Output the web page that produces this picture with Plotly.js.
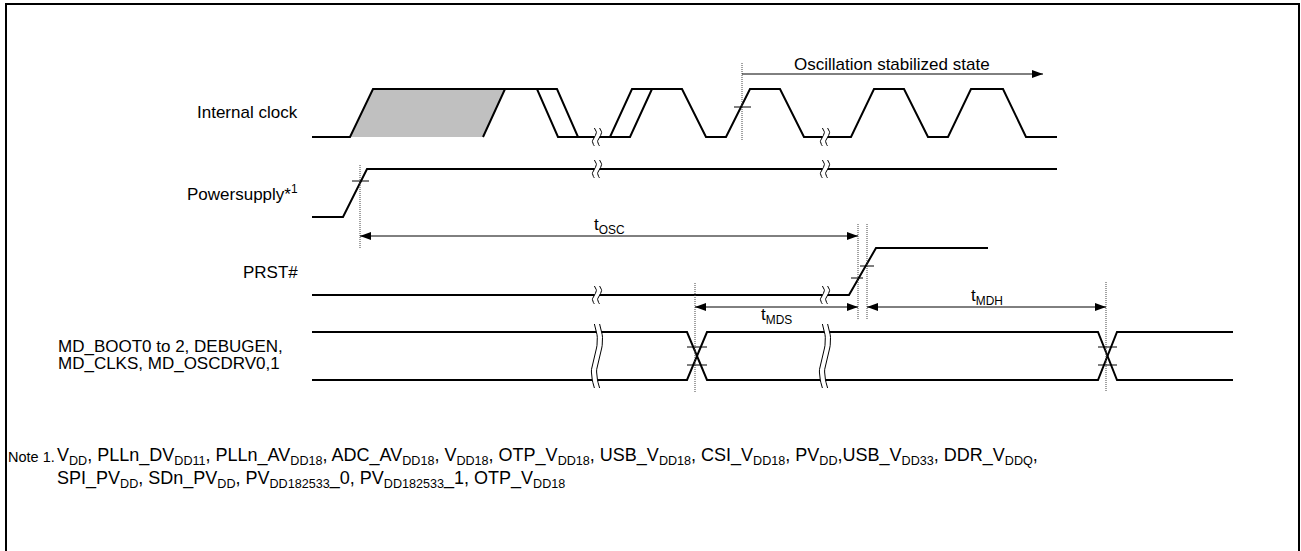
<!DOCTYPE html>
<html><head><meta charset="utf-8">
<script src="https://cdn.plot.ly/plotly-3.0.1.min.js"></script>
<style>html,body{margin:0;padding:0;background:#fff}#chart{width:1301px;height:551px}</style>
</head><body><div id="chart"></div>
<script>
// ================= DATA =================
// Signal labels
const signalLabels = ["Internal clock", "Powersupply*<sup>1</sup>", "PRST#"];
const busLabels = ["MD_BOOT0 to 2, DEBUGEN,", "MD_CLKS, MD_OSCDRV0,1"];

// Internal clock: edge times (timeline units) and logic levels (0 = low, 1 = high)
const clockT     = [312, 350, 373, 537, 558, 610, 632, 682, 706, 726, 750, 780, 804, 851, 874, 904, 928, 948, 971, 1003, 1026, 1057];
const clockLevel = [0,   0,   1,   1,   0,   0,   1,   1,   0,   0,   1,   1,   0,   0,   1,   1,   0,   0,   1,   1,    0,    0];
// Late-edge (jitter) trace of the start-up clock
const clockLateT     = [483, 505, 557, 578, 630, 652];
const clockLateLevel = [0,   1,   1,   0,   0,   1];
// Shaded uncertain region at oscillation start
const shadeT     = [350, 373, 505, 483];
const shadeLevel = [0,   1,   1,   0];

// Power supply
const powerT     = [312, 343, 367, 1057];
const powerLevel = [0,   0,   1,   1];

// PRST#
const prstT     = [312, 849, 876, 988];
const prstLevel = [0,   0,   1,   1];

// Mode-pin bus (two crossing lines)
const busT      = [312, 687, 707, 1098, 1117, 1233];
const busLevelA = [1,   1,   0,   0,    1,    1];
const busLevelB = [0,   0,   1,   1,    0,    0];

// Time-axis breaks
const breakT = [597, 825];

// Reference instants (threshold crossings)
const tClockStable = 742;   // oscillation stabilized
const tPowerOn     = 360;   // power supply valid
const tPrstLow     = 858;   // PRST# crosses VIL
const tPrstHigh    = 867;   // PRST# crosses VIH
const tModeValid   = 695;   // mode pins settled
const tModeHoldEnd = 1106;  // mode-pin hold end

// Timing parameter names
const timingNames = ["t<sub>OSC</sub>", "t<sub>MDS</sub>", "t<sub>MDH</sub>"];
const stabilizedText = "Oscillation stabilized state";
const stabilizedEnd = 1043;

const noteLabel = "Note 1.";
const noteLines = [
  "V<sub>DD</sub>, PLLn_DV<sub>DD11</sub>, PLLn_AV<sub>DD18</sub>, ADC_AV<sub>DD18</sub>, V<sub>DD18</sub>, OTP_V<sub>DD18</sub>, USB_V<sub>DD18</sub>, CSI_V<sub>DD18</sub>, PV<sub>DD</sub>,USB_V<sub>DD33</sub>, DDR_V<sub>DDQ</sub>,",
  "SPI_PV<sub>DD</sub>, SDn_PV<sub>DD</sub>, PV<sub>DD182533</sub>_0, PV<sub>DD182533</sub>_1, OTP_V<sub>DD18</sub>"
];

// ================= LAYOUT / STYLE =================
const rows = {
  clock: {lo: 137, hi: 89,  label: 112},
  power: {lo: 217, hi: 169, label: 193},
  prst:  {lo: 295, hi: 248, label: 272},
  bus:   {lo: 380, hi: 332, label: 346}
};
const FONT = "Arial, 'Liberation Sans', sans-serif";
const WAVE_W = 2;
const traces = [];
const lv = (row, levels) => levels.map(v => v ? row.hi : row.lo);

function line(x, y, w, dash, color) {
  traces.push({type: 'scatter', mode: 'lines', x: x, y: y, hoverinfo: 'skip',
    line: {color: color || '#000', width: w, dash: dash || 'solid'}});
}
function poly(x, y, fill) {
  traces.push({type: 'scatter', mode: 'lines', x: x, y: y, fill: 'toself', fillcolor: fill,
    line: {width: 0, color: fill}, hoverinfo: 'skip'});
}
function vdot(x, y0, y1) { line([x, x], [y0, y1], 1, '1px,1px', '#444'); }
function tick(x0, x1, y) { line([x0, x1], [y, y], 1, 'solid', '#000'); }
function head(x, y, dir) {
  const L = 11, H = 4;
  poly([x, x - dir * L, x - dir * L, x], [y, y - H, y + H, y], '#000');
}
function arrow(x0, x1, y, left, right) {
  line([x0, x1], [y, y], 1, 'solid', '#000');
  if (left) head(x0, y, -1);
  if (right) head(x1, y, 1);
}
function brk(cx, cy, h, w) {
  const N = 24, gap = 2.6;
  const xa = [], ya = [], xb = [], yb = [];
  for (let i = 0; i <= N; i++) {
    const t = -1 + 2 * i / N;
    const dx = -w * Math.sin(Math.PI * t);
    xa.push(cx - gap + dx); ya.push(cy + h * t);
    xb.push(cx + gap + dx); yb.push(cy + h * t);
  }
  poly(xa.concat(xb.slice().reverse()), ya.concat(yb.slice().reverse()), '#fff');
  line(xa, ya, 1, 'solid', '#000');
  line(xb, yb, 1, 'solid', '#000');
}

// ---- Internal clock ----
poly(shadeT, lv(rows.clock, shadeLevel), '#c0c0c0');
line(clockT, lv(rows.clock, clockLevel), WAVE_W);
line(clockLateT, lv(rows.clock, clockLateLevel), WAVE_W);
breakT.forEach(b => brk(b, rows.clock.lo, 9, 2));
vdot(tClockStable, 63, 141);
tick(tClockStable - 8, tClockStable + 9, 107);
arrow(tClockStable, stabilizedEnd, 74, false, true);

// ---- Power supply ----
line(powerT, lv(rows.power, powerLevel), WAVE_W);
breakT.forEach(b => brk(b, rows.power.hi, 9, 2));
vdot(tPowerOn, 165, 248);
tick(tPowerOn - 8, tPowerOn + 9, 181);

// ---- tOSC ----
arrow(tPowerOn, tPrstLow, 236, true, true);

// ---- PRST# ----
line(prstT, lv(rows.prst, prstLevel), WAVE_W);
breakT.forEach(b => brk(b, rows.prst.lo, 9, 2));
vdot(tPrstLow, 224, 320);
vdot(tPrstHigh, 224, 320);
tick(tPrstLow - 7, tPrstLow + 5, 278);
tick(tPrstHigh - 7, tPrstHigh + 7, 266);

// ---- Bus ----
line(busT, lv(rows.bus, busLevelA), WAVE_W);
line(busT, lv(rows.bus, busLevelB), WAVE_W);
brk(breakT[0], (rows.bus.lo + rows.bus.hi) / 2, 32, 3);
brk(breakT[1], (rows.bus.lo + rows.bus.hi) / 2, 32, 3);
vdot(tModeValid, 283, 392);
vdot(tModeHoldEnd, 282, 392);
[[busT[1], busT[2]], [busT[3], busT[4]]].forEach(p => {
  tick(p[0], p[1], 347); tick(p[0], p[1], 365);
});

// ---- tMDS / tMDH ----
arrow(tModeValid, tPrstLow, 307, true, true);
arrow(tPrstHigh, tModeHoldEnd, 307, true, true);

// ---- Annotations ----
const ann = [];
const txt = (x, y, text, size, xanchor) => ann.push({x: x, y: y, xref: 'x', yref: 'y', text: text,
  showarrow: false, xanchor: xanchor || 'center', yanchor: 'middle', font: {family: FONT, size: size, color: '#000'}});
txt(300, rows.clock.label, signalLabels[0], 17, 'right');
txt(300, rows.power.label, signalLabels[1], 17, 'right');
txt(300, rows.prst.label, signalLabels[2], 17, 'right');
txt(56, rows.bus.label, busLabels[0], 17, 'left');
txt(56, rows.bus.label + 17, busLabels[1], 17, 'left');
txt(892, 64, stabilizedText, 17, 'center');
txt(609, 226, timingNames[0], 17, 'center');
txt(776, 316, timingNames[1], 17, 'center');
txt(987, 297, timingNames[2], 17, 'center');
txt(6, 457, noteLabel, 14.5, 'left');
txt(55, 456, noteLines[0], 18, 'left');
txt(55, 479, noteLines[1], 18, 'left');

const layout = {
  width: 1301, height: 551, margin: {l: 0, r: 0, t: 0, b: 0},
  paper_bgcolor: '#fff', plot_bgcolor: '#fff', showlegend: false, hovermode: false,
  xaxis: {range: [0, 1301], visible: false, fixedrange: true},
  yaxis: {range: [551, 0], visible: false, fixedrange: true},
  annotations: ann,
  shapes: [{type: 'rect', xref: 'x', yref: 'y', x0: 6, x1: 1299, y0: 4, y1: 556,
    line: {color: '#000', width: 2}, fillcolor: 'rgba(0,0,0,0)'}]
};
Plotly.newPlot('chart', traces, layout, {staticPlot: true, displayModeBar: false});
</script></body></html>
